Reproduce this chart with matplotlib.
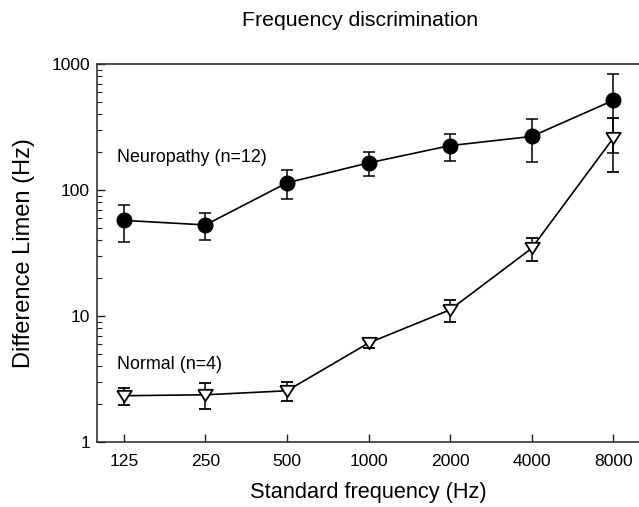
import matplotlib
matplotlib.use("Agg")
import matplotlib.pyplot as plt
from matplotlib.ticker import FixedLocator, LogLocator, NullFormatter

plt.rcParams["font.family"] = ["Liberation Sans", "DejaVu Sans"]

freqs = ["125", "250", "500", "1000", "2000", "4000", "8000"]

# neuropathy group (n=12), mean and SE
neuro_mean = [57.4, 52.8, 114, 164, 225, 266, 514]
neuro_err = [19, 12.5, 29, 36, 54, 100, 319]

# normal group (n=4)
normal_mean = [2.33, 2.37, 2.55, 6.1, 11.2, 34.4, 257]
normal_err = [0.37, 0.55, 0.42, 0.5, 2.2, 7.0, 118]

ytick_vals = [1, 10, 100, 1000]
ytick_labels = ["1", "10", "100", "1000"]

fig = plt.figure(figsize=(6.39, 5.07), dpi=100)
ax = fig.add_axes([97 / 639, 65 / 507, 543 / 639, 378 / 507])

x = list(range(len(freqs)))

# triangle pointing down, a bit wider than tall
tri = [(-1, 0.78), (1, 0.78), (0, -0.78), (-1, 0.78)]

ax.errorbar(x, neuro_mean, yerr=neuro_err, color="black", lw=1.2,
            elinewidth=1.1, capsize=4.3, capthick=1.1,
            marker="o", ms=10.5, mfc="black", mec="black", zorder=3)
ax.errorbar(x, normal_mean, yerr=normal_err, color="black", lw=1.2,
            elinewidth=1.1, capsize=4.3, capthick=1.1,
            marker=tri, ms=10.5, mfc="white", mec="black", mew=1.3,
            zorder=3)

ax.set_yscale("log")
ax.set_ylim(1, 1000)
ax.set_xlim(-0.33, 6.33)

ax.set_xticks(x)
ax.set_xticklabels(freqs)
ax.yaxis.set_major_locator(FixedLocator(ytick_vals))
ax.set_yticklabels(ytick_labels)
ax.yaxis.set_minor_locator(LogLocator(base=10, subs=range(2, 10)))
ax.yaxis.set_minor_formatter(NullFormatter())

ax.tick_params(axis="both", which="major", direction="in", length=6,
               width=1, labelsize=12.6, colors="#222222", labelcolor="black")
ax.tick_params(axis="y", which="minor", direction="in", length=3.5,
               width=0.8, colors="#222222")
ax.tick_params(axis="x", pad=8.5)
ax.tick_params(axis="y", pad=5)

for side in ["left", "bottom", "top"]:
    ax.spines[side].set_linewidth(1.2)
    ax.spines[side].set_color("#333333")
ax.spines["right"].set_visible(False)

ax.set_xlabel("Standard frequency (Hz)", fontsize=15.7)
ax.xaxis.set_label_coords(0.5, -0.105)
ax.set_ylabel("Difference Limen (Hz)", fontsize=17)
ax.yaxis.set_label_coords(-0.115, 0.5)

fig.text(360 / 639, 1 - 21 / 507, "Frequency discrimination", fontsize=15.3,
         ha="center", va="center")

ax.text(0.037, 0.753, "Neuropathy (n=12)", transform=ax.transAxes,
        fontsize=12.9, va="center", ha="left")
ax.text(0.037, 0.2045, "Normal (n=4)", transform=ax.transAxes,
        fontsize=12.9, va="center", ha="left")

fig.savefig("out.png", dpi=100)
